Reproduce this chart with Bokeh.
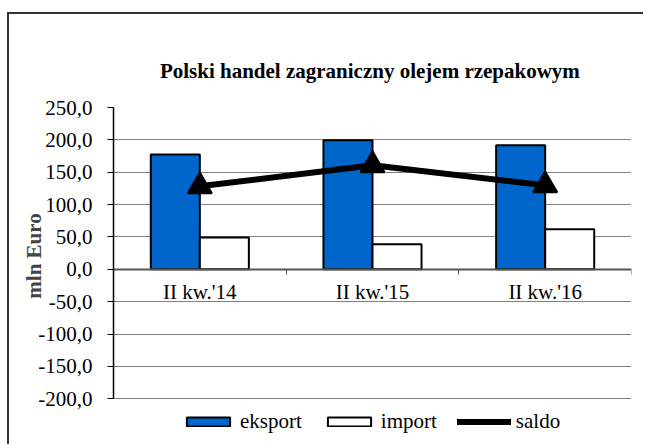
from bokeh.plotting import figure
from bokeh.models import FactorRange, Range1d, FixedTicker, LinearAxis, Legend, LegendItem
from bokeh.transform import dodge
from bokeh.embed import file_html
from bokeh.resources import INLINE

categories = ["II kw.'14", "II kw.'15", "II kw.'16"]
eksport = [177.3, 199.5, 191.7]
imports = [49.0, 38.7, 61.9]
saldo = [128.3, 160.8, 129.8]
y_ticks = [-200, -150, -100, -50, 0, 50, 100, 150, 200, 250]

FONT = "Liberation Serif"
W, H = 636, 432
Y_MIN, Y_MAX = -200, 250
LEGEND_ROOM = 73.8  # extra data units below the lowest tick, where the legend sits

p = figure(width=W, height=H, output_backend="svg", toolbar_location=None,
           x_range=FactorRange(factors=categories, range_padding=0),
           y_range=Range1d(Y_MIN - LEGEND_ROOM, Y_MAX),
           min_border_left=104, min_border_right=14, min_border_top=93, min_border_bottom=0,
           title="Polski handel zagraniczny  olejem rzepakowym")
p.styles = {"border-top": "2px solid #333333", "border-left": "2px solid #333333",
            "border-right": "0px none", "border-bottom": "0px none",
            "margin-left": "7px", "margin-top": "12px"}
p.outline_line_color = None
p.background_fill_color = "white"
p.border_fill_color = "white"

p.title.text_font = FONT
p.title.text_font_size = "21px"
p.title.text_font_style = "bold"
p.title.align = "center"
p.title.text_color = "black"
p.title.standoff = 49

src = dict(cat=categories, eksport=eksport, imp=imports, saldo=saldo)
r_eks = p.vbar(x=dodge("cat", -0.142, range=p.x_range), top="eksport", width=0.284, source=src,
               fill_color="#0066CC", line_color="black", line_width=2)
r_imp = p.vbar(x=dodge("cat", 0.142, range=p.x_range), top="imp", width=0.284, source=src,
               fill_color="white", line_color="black", line_width=2)
r_line = p.line(x="cat", y="saldo", source=src, line_color="black", line_width=6, line_cap="round")
r_tri = p.scatter(x="cat", y="saldo", source=src, marker="triangle", size=24,
                  fill_color="black", line_color="black", line_width=2)

# grid
p.xgrid.grid_line_color = None
p.ygrid.ticker = FixedTicker(ticks=[t for t in y_ticks if t != 0])
p.ygrid.bounds = (Y_MIN, Y_MAX)
p.ygrid.grid_line_color = "black"
p.ygrid.grid_line_dash = "1 1"
p.ygrid.grid_line_width = 1

# y axis
yax = p.yaxis[0]
yax.ticker = FixedTicker(ticks=y_ticks)
yax.bounds = (Y_MIN, Y_MAX)
yax.major_label_overrides = {t: f"{t:.1f}".replace(".", ",") for t in y_ticks}
yax.major_label_text_font = FONT
yax.major_label_text_font_size = "21px"
yax.major_label_text_color = "black"
yax.axis_line_color = "black"
yax.axis_line_width = 1.5
yax.major_tick_line_color = "black"
yax.major_tick_out = 6
yax.major_tick_in = 0
yax.minor_tick_line_color = None
yax.major_label_standoff = 15
# leading no-break spaces keep the label centred on the -200..250 part of the axis
yax.axis_label = "\u00a0" * 9 + "mln  Euro"
yax.axis_label_text_font = FONT
yax.axis_label_text_font_size = "21px"
yax.axis_label_text_font_style = "bold"
yax.axis_label_standoff = -11

# x axis (categorical labels at y = 0)
xax = p.xaxis[0]
xax.fixed_location = 0
xax.axis_line_color = None
xax.major_tick_line_color = None
xax.minor_tick_line_color = None
xax.major_label_standoff = 5
xax.major_label_text_font = FONT
xax.major_label_text_font_size = "21px"
xax.major_label_text_color = "black"

# zero line with ticks at category boundaries (synthetic coordinates of the factor range)
eax = LinearAxis(ticker=FixedTicker(ticks=list(range(len(categories) + 1))), fixed_location=0)
eax.axis_line_color = "#555555"
eax.axis_line_width = 2
eax.major_tick_line_color = "#555555"
eax.major_tick_out = 5
eax.major_tick_in = 0
eax.minor_tick_line_color = None
eax.major_label_text_color = None
eax.major_label_text_font_size = "1px"
p.add_layout(eax, "below")

legend = Legend(items=[LegendItem(label="eksport", renderers=[r_eks]),
                       LegendItem(label="import", renderers=[r_imp]),
                       LegendItem(label="saldo", renderers=[r_line, r_tri])],
                orientation="horizontal", location=(68, 12))
legend.glyph_width = 54
legend.glyph_height = 11
legend.label_standoff = 5
legend.spacing = 20
legend.padding = 0
legend.margin = 0
legend.border_line_color = None
legend.background_fill_alpha = 0
legend.label_text_font = FONT
legend.label_text_font_size = "21px"
legend.label_text_color = "black"
p.add_layout(legend, "center")

open("out.html", "w").write(file_html(p, INLINE))
